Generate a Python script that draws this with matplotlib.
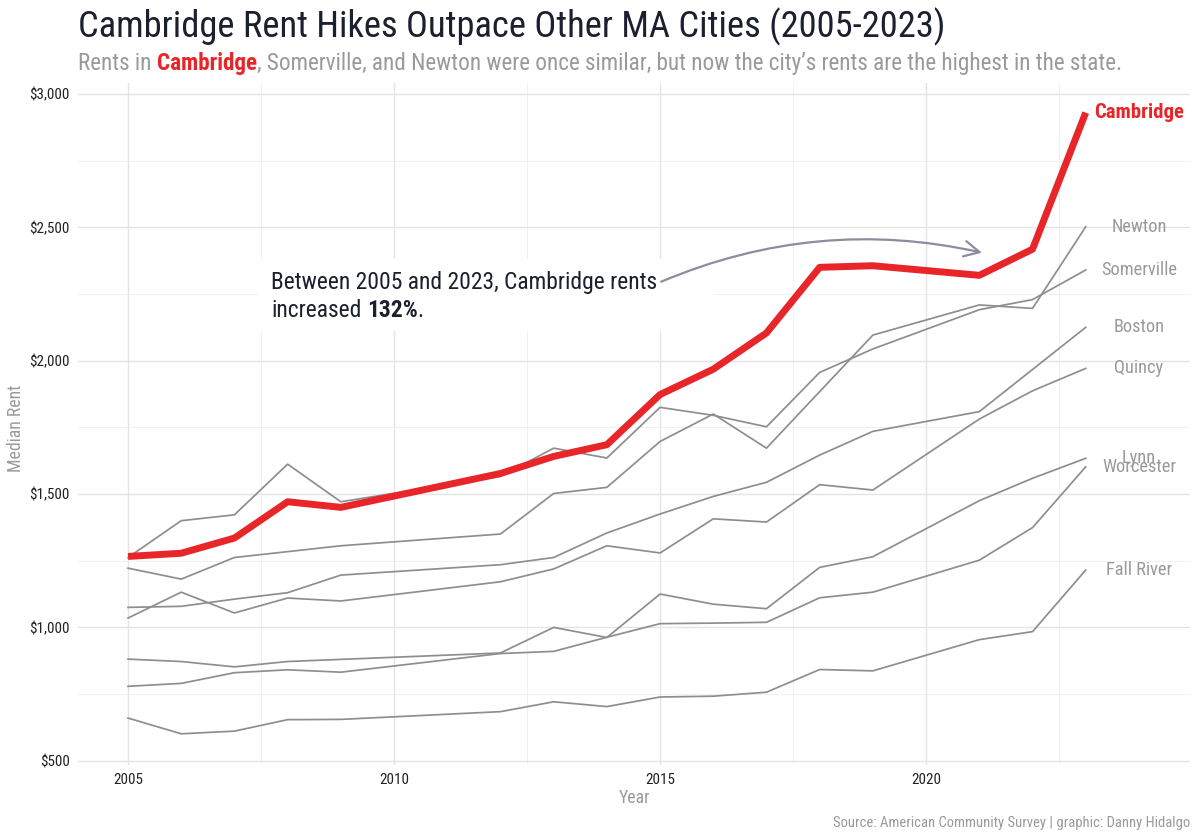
import matplotlib
matplotlib.use('Agg')
import matplotlib.pyplot as plt
from matplotlib import font_manager as fm
from matplotlib.patches import Rectangle
from matplotlib.ticker import MultipleLocator, FuncFormatter

# ---------------- data ----------------
years = [2005, 2006, 2007, 2008, 2009, 2012, 2013, 2014, 2015, 2016, 2017, 2018, 2019, 2021, 2022, 2023]
cambridge = [1266, 1278, 1335, 1471, 1450, 1577, 1641, 1685, 1873, 1968, 2104, 2350, 2356, 2320, 2418, 2930]
newton = [1222, 1181, 1262, 1284, 1306, 1350, 1502, 1525, 1697, 1800, 1672, 1884, 2096, 2209, 2196, 2502]
somerville = [1262, 1400, 1422, 1612, 1471, 1566, 1672, 1635, 1825, 1795, 1752, 1956, 2044, 2191, 2229, 2340]
boston = [1075, 1079, 1106, 1130, 1196, 1235, 1262, 1354, 1425, 1491, 1544, 1646, 1735, 1809, 1967, 2125]
quincy = [1035, 1132, 1054, 1110, 1099, 1171, 1219, 1306, 1279, 1407, 1395, 1535, 1515, 1781, 1887, 1971]
lynn = [881, 872, 852, 872, 880, 904, 1000, 962, 1125, 1087, 1070, 1225, 1265, 1475, 1559, 1634]
worcester = [779, 790, 830, 841, 832, 902, 910, 963, 1014, 1016, 1019, 1111, 1132, 1252, 1374, 1602]
fall_river = [660, 601, 611, 654, 655, 684, 721, 703, 739, 742, 757, 842, 837, 954, 984, 1215]

other_cities = {
    'Newton': newton, 'Somerville': somerville, 'Boston': boston, 'Quincy': quincy,
    'Lynn': lynn, 'Worcester': worcester, 'Fall River': fall_river,
}
x_ticks = [2005, 2010, 2015, 2020]
y_ticks = [500, 1000, 1500, 2000, 2500, 3000]

title = "Cambridge Rent Hikes Outpace Other MA Cities (2005-2023)"
caption = "Source: American Community Survey | graphic: Danny Hidalgo"

# ---------------- style ----------------
RED = '#E8262A'
GRAY_LINE = '#8e8e8e'
GRAY_TEXT = '#9a9a9a'
DARK = '#1b1f2e'

W, H = 1200, 840
fig = plt.figure(figsize=(12, 8.4), dpi=100)
fig.patch.set_facecolor('white')

avail = {f.name for f in fm.fontManager.ttflist}
FONT = next(c for c in ['Roboto Condensed', 'Liberation Sans Narrow', 'Roboto', 'DejaVu Sans'] if c in avail)
plt.rcParams['font.family'] = [FONT, 'DejaVu Sans']

renderer = fig.canvas.get_renderer()


def adv(s, size, **kw):
    t = fig.text(0, 0, '|' + s + '|', fontsize=size, **kw)
    w1 = t.get_window_extent(renderer).width
    t.set_text('||')
    w0 = t.get_window_extent(renderer).width
    t.remove()
    return w1 - w0


def fit(s, target, base=14, **kw):
    return base * target / adv(s, base, **kw)


def rich(x, y, pieces, size, target=None, ha='left', va='baseline'):
    if target:
        total = sum(adv(s, size, **kw) for s, kw in pieces)
        size = size * target / total
    total = sum(adv(s, size, **kw) for s, kw in pieces)
    cx = x if ha == 'left' else x - total
    for s, kw in pieces:
        lead = len(s) - len(s.lstrip(' '))
        off = adv(' ' * lead, size, **kw) if lead else 0
        fig.text((cx + off) / W, 1 - y / H, s.strip(' '), fontsize=size,
                 ha='left', va=va, **kw)
        cx += adv(s, size, **kw)
    return size


# ---------------- axes ----------------
ax_left, ax_right, ax_top, ax_bot = 78, 1190, 82.5, 765
ax = fig.add_axes([ax_left / W, 1 - ax_bot / H, (ax_right - ax_left) / W, (ax_bot - ax_top) / H])
ax.set_xlim(2004.06, 2024.96)
ax.set_ylim(484, 3043)
for sp in ax.spines.values():
    sp.set_visible(False)

ax.set_xticks(x_ticks)
ax.xaxis.set_minor_locator(MultipleLocator(2.5))
ax.set_yticks(y_ticks)
ax.yaxis.set_minor_locator(MultipleLocator(250))
ax.yaxis.set_major_formatter(FuncFormatter(lambda v, p: '${:,.0f}'.format(v)))
ax.set_axisbelow(True)
ax.grid(which='major', color='#e4e4e4', lw=1.0)
ax.grid(which='minor', color='#efefef', lw=0.6)

tick_size = fit('$3,000', 40, 10)
ax.tick_params(which='both', length=0)
ax.tick_params(axis='y', pad=6, labelsize=tick_size, labelcolor='#222222')
ax.tick_params(axis='x', pad=6, labelsize=tick_size, labelcolor='#222222')

# lines
for name, vals in other_cities.items():
    ax.plot(years, vals, color=GRAY_LINE, lw=1.25, zorder=3, solid_joinstyle='round')
ax.plot(years, cambridge, color=RED, lw=5, zorder=4, solid_joinstyle='round', solid_capstyle='butt')

# end labels
lab_size = fit('Somerville', 76, 12)
for name, vals in other_cities.items():
    ax.text(2024.0, vals[-1], name, ha='center', va='center', fontsize=lab_size,
            color=GRAY_TEXT, zorder=5)
cam_size = fit('Cambridge', 90, 12, fontweight='bold')
ax.text(2024.0, cambridge[-1], 'Cambridge', ha='center', va='center', fontsize=cam_size,
        color=RED, fontweight='bold', zorder=5)

# annotation box + text
ax.add_patch(Rectangle((258 / W, 1 - 331 / H), (715 - 258) / W, (331 - 259) / H,
                       transform=fig.transFigure, facecolor='white', edgecolor='none',
                       zorder=2, clip_on=False))
ann_size = fit('Between 2005 and 2023, Cambridge rents', 387, 16)
rich(271, 289, [('Between 2005 and 2023, Cambridge rents', dict(color=DARK))], ann_size)
rich(271, 317, [('increased ', dict(color=DARK)), ('132%', dict(color=DARK, fontweight='bold')),
                ('.', dict(color=DARK))], ann_size)

ax.annotate('', xy=(2021.05, 2405), xytext=(2015.02, 2296),
            arrowprops=dict(arrowstyle='->,head_length=0.55,head_width=0.28',
                            connectionstyle='arc3,rad=-0.16', color='#8c8c9e', lw=1.6,
                            shrinkA=0, shrinkB=0, mutation_scale=20), zorder=6)

# ---------------- titles ----------------
rich(78, 37, [(title, dict(color=DARK))], 22, target=867)
rich(78, 70, [('Rents in ', dict(color=GRAY_TEXT)),
              ('Cambridge', dict(color=RED, fontweight='bold')),
              (', Somerville, and Newton were once similar, but now the city\u2019s rents are the highest in the state.',
               dict(color=GRAY_TEXT))], 16, target=1050)
cap_size = fit(caption, 355, 10)
fig.text(1190 / W, 1 - 823 / H, caption, ha='right', va='center', fontsize=cap_size, color=GRAY_TEXT)
fig.text(634 / W, 1 - 798 / H, 'Year', ha='center', va='center',
         fontsize=fit('Median Rent', 87, 12), color=GRAY_TEXT)
fig.text(16 / W, 1 - 428 / H, 'Median Rent', ha='center', va='center', rotation=90,
         fontsize=fit('Median Rent', 87, 12), color=GRAY_TEXT)

fig.savefig('out.png', dpi=100, facecolor='white')
